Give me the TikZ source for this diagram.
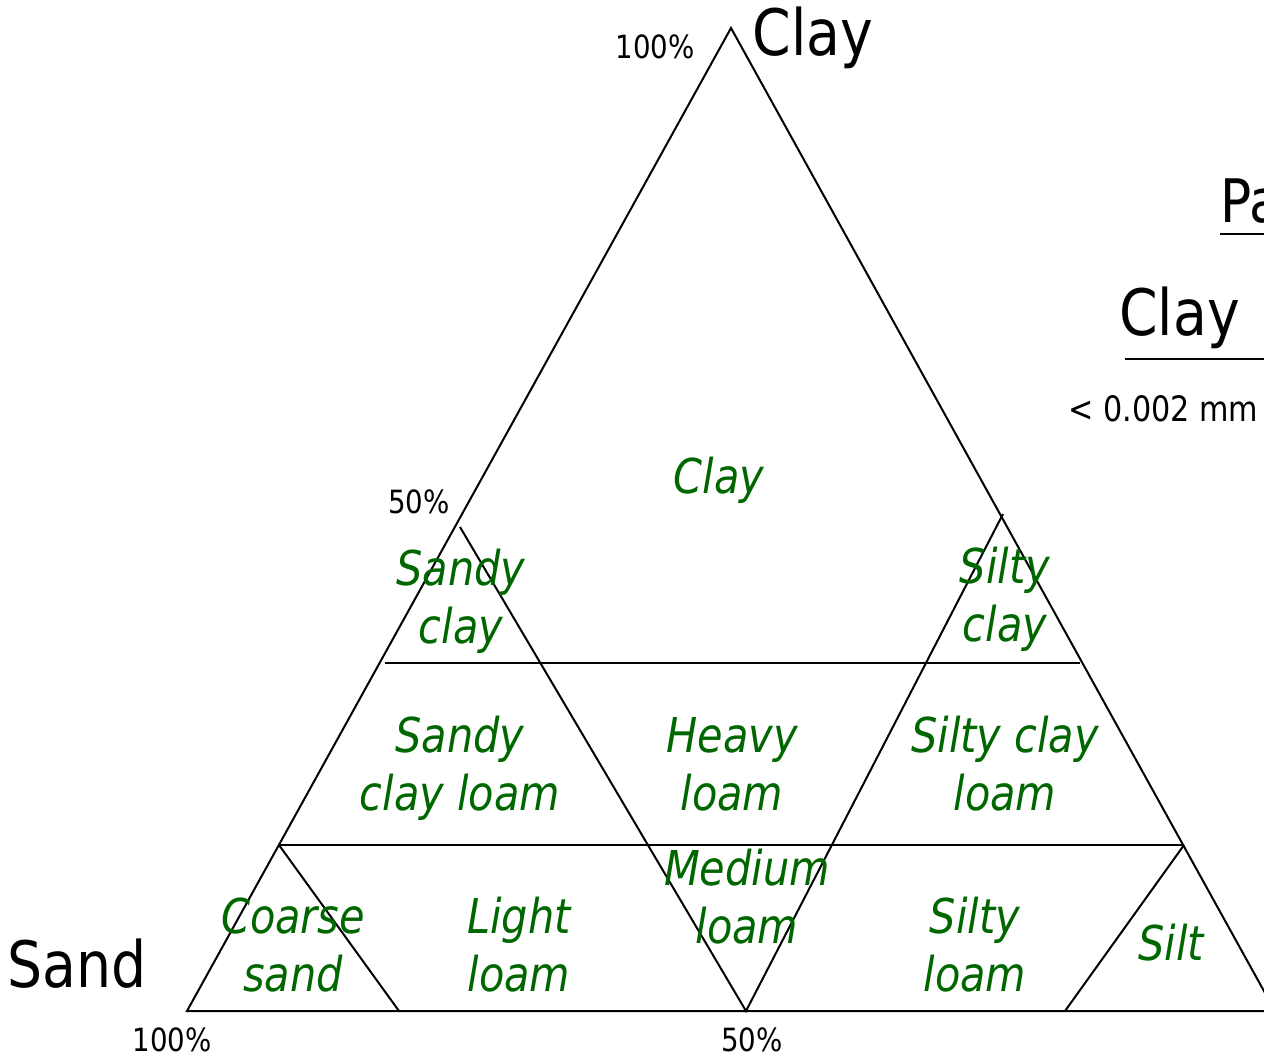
\documentclass[tikz,border=0pt]{standalone}
\usepackage{fontspec}
\setmainfont{DejaVu Sans Condensed}[FakeStretch=0.96, ItalicFont={DejaVu Sans Condensed Oblique}]
\definecolor{tgreen}{RGB}{0,102,0}
\newcommand{\mytwo}[2]{\begin{tabular}[t]{@{}c@{}}#1\\#2\end{tabular}}
\tikzset{
  edge/.style={line width=1pt},
  soil/.style={text=tgreen, font=\fontsize{24}{29}\selectfont\itshape, inner sep=0pt, anchor=base},
  big/.style={font=\fontsize{32}{38}\selectfont, inner sep=0pt, anchor=base},
  pct/.style={font=\fontsize{16}{19}\selectfont, inner sep=0pt, anchor=base},
  small/.style={font=\fontsize{17.5}{21}\selectfont, inner sep=0pt, anchor=base west},
}
\begin{document}
\begin{tikzpicture}[x=0.5pt,y=-0.5pt]
\useasboundingbox (0,0) rectangle (1264,1057);
\clip (0,0) rectangle (1264,1057);
% vertices
\coordinate (A) at (731,28);
\coordinate (B) at (187,1011);
\coordinate (C) at (1275,1011);
\coordinate (h1L) at (385,663);
\coordinate (h1R) at (1080,663);
\coordinate (h2L) at (279,845);
\coordinate (h2R) at (1184,845);
\coordinate (scT) at (460,527);
\coordinate (M) at (746,1011);
\coordinate (siT) at (1003,514);
\coordinate (csB) at (399,1011);
\coordinate (stB) at (1065,1011);
\coordinate (ulA) at (1220,234);
\coordinate (ulB) at (1300,234);
\coordinate (rlA) at (1125,359);
\coordinate (rlB) at (1300,359);
% lines
\draw[edge] (A) -- (B) -- (C) -- cycle;
\draw[edge] (h1L) -- (h1R);
\draw[edge] (h2L) -- (h2R);
\draw[edge] (scT) -- (M) -- (siT);
\draw[edge] (h2L) -- (csB);
\draw[edge] (h2R) -- (stB);
\draw[edge] (ulA) -- (ulB);
\draw[edge] (rlA) -- (rlB);
% axis labels
\node[big] (tclay) at (813,55) {Clay};
\node[big] (sand) at (77,987) {Sand};
\node[pct] (p100t) at (655,58) {100\%};
\node[pct] (p50l) at (419,513) {50\%};
\node[pct] (p100b) at (172,1051) {100\%};
\node[pct] (p50b) at (752,1051) {50\%};
% right side
\node[font=\fontsize{30}{36}\selectfont, inner sep=0pt, anchor=base west] (pa) at (1220,222) {Pa};
\node[big, anchor=base west] (rclay) at (1119,335) {Clay};
\node[small] (rsize) at (1068,421) {< 0.002 mm};
% soil classes
\node[soil] (lclay) at (719,493) {Clay};
\node[soil] (lsc) at (461,585) {\mytwo{Sandy}{clay}};
\node[soil] (lsic) at (1005,583) {\mytwo{Silty}{clay}};
\node[soil] (lscl) at (460,752) {\mytwo{Sandy}{clay loam}};
\node[soil] (lhl) at (732,752) {\mytwo{Heavy}{loam}};
\node[soil] (lsicl) at (1005,752) {\mytwo{Silty clay}{loam}};
\node[soil] (lcs) at (293,933) {\mytwo{Coarse}{sand}};
\node[soil] (lll) at (519,933) {\mytwo{Light}{loam}};
\node[soil] (lml) at (747,885) {\mytwo{Medium}{loam}};
\node[soil] (lsil) at (975,933) {\mytwo{Silty}{loam}};
\node[soil] (lsilt) at (1171,960) {Silt};
\end{tikzpicture}
\end{document}
